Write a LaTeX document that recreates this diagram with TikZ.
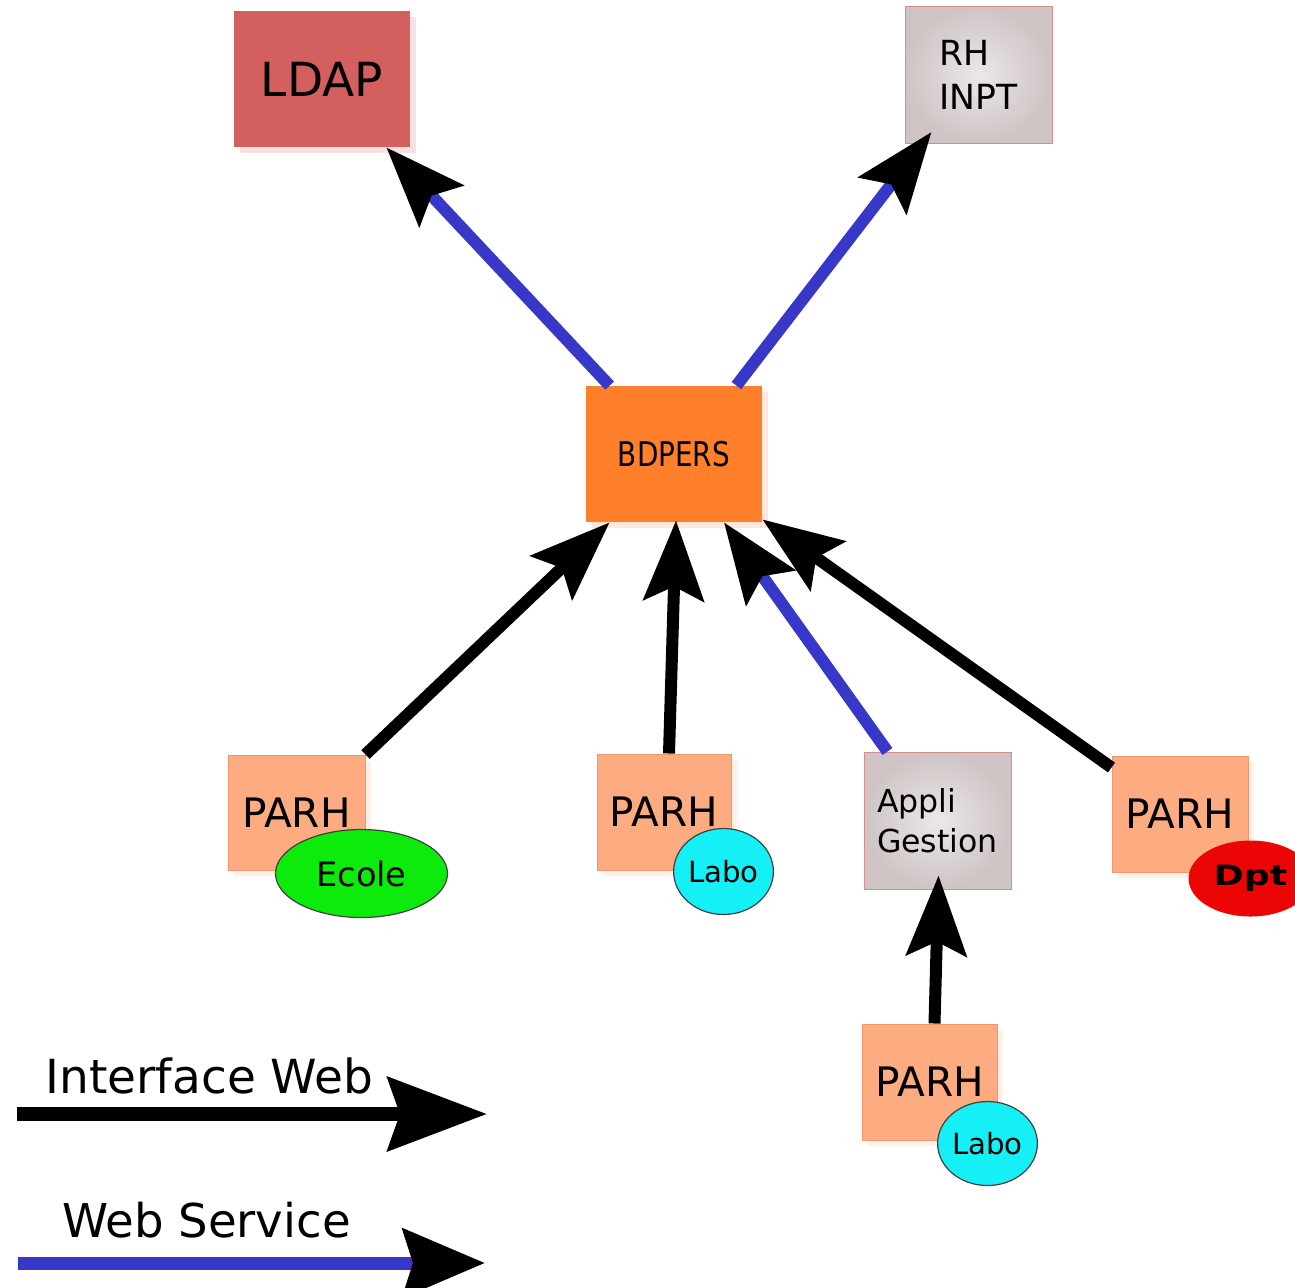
\documentclass[tikz,border=0pt]{standalone}
\usepackage{fontspec}
\setmainfont{DejaVu Sans}
\newfontfamily\bdfont[FakeStretch=0.82]{DejaVu Sans}
\newfontfamily\dptfont[FakeStretch=1.3]{DejaVu Sans Bold}
\usetikzlibrary{arrows.meta,shapes.geometric,shadows}
\definecolor{ldapred}{RGB}{211,95,95}
\definecolor{rhgray}{RGB}{206,196,196}
\definecolor{rhlight}{RGB}{236,231,231}
\definecolor{rhborder}{RGB}{215,140,140}
\definecolor{bdorange}{RGB}{255,127,42}
\definecolor{parhsalmon}{RGB}{253,172,130}
\definecolor{parhborder}{RGB}{238,150,112}
\definecolor{ecolegreen}{RGB}{12,235,12}
\definecolor{labocyan}{RGB}{20,240,245}
\definecolor{dptred}{RGB}{235,5,5}
\definecolor{wsblue}{RGB}{55,55,200}
\begin{document}
\begin{tikzpicture}[x=0.5pt,y=-0.5pt,
    box/.style={rectangle,inner sep=0pt,drop shadow={shadow xshift=3pt,shadow yshift=-3pt,opacity=0.18,fill=#1},fill=#1},
    parh/.style={box=parhsalmon,draw=parhborder,line width=0.5pt,minimum width=68pt,minimum height=58pt,font=\fontsize{20.3}{24}\selectfont},
    grisbox/.style={rectangle,inner sep=0pt,inner color=rhlight,outer color=rhgray,draw=rhborder,line width=0.5pt,minimum width=73.5pt,minimum height=68.5pt,align=left},
    tag/.style={ellipse,inner sep=0pt,draw=black!75,line width=0.6pt},
    iw/.style={line width=6pt,black,-{Stealth[length=40pt,width=30pt,inset=7pt]}},
    ws/.style={line width=6pt,wsblue,-{Stealth[length=40pt,width=30pt,inset=7pt,color=black]}},
  ]
  \useasboundingbox (0,0) rectangle (1295,1287);
  \node[box=ldapred,minimum width=88pt,minimum height=68pt,font=\fontsize{23.5}{27}\selectfont] (ldap) at (322,79) {LDAP};
  \node[grisbox,font=\fontsize{17.3}{22}\selectfont] (rh) at (978.5,75) {RH\\INPT};
  \node[box=bdorange,minimum width=88pt,minimum height=68pt,font={\bdfont\fontsize{17}{20}\selectfont}] (bdpers) at (674,454) {BDPERS};

  \node[parh,minimum width=68.5pt,minimum height=57.5pt] (parhecole) at (296.5,812.5) {PARH};
  \node[tag,fill=ecolegreen,minimum width=86pt,minimum height=44pt,font=\fontsize{16.8}{20}\selectfont] (ecole) at ([xshift=-2pt,yshift=-1.5pt]parhecole.south east) {Ecole};
  \node[parh,minimum width=67pt] (parhlabo) at (664,812) {PARH};
  \node[tag,fill=labocyan,minimum width=49pt,minimum height=43pt,font=\fontsize{14.6}{17}\selectfont] (labo) at ([xshift=-4pt,yshift=-0.5pt]parhlabo.south east) {Labo};
  \node[grisbox,font=\fontsize{15.8}{20}\selectfont] (appli) at (937.5,820.5) {Appli\\Gestion};
  \node[parh] (parhdpt) at (1180,814) {PARH};
  \node[tag,draw=none,fill=dptred,minimum width=62pt,minimum height=38pt,font={\dptfont\fontsize{14}{17}\selectfont}] (dpt) at ([xshift=1pt,yshift=-3pt]parhdpt.south east) {Dpt};
  \node[parh,minimum width=67.5pt] (parhbas) at (929.5,1082) {PARH};
  \node[tag,fill=labocyan,minimum width=49.5pt,minimum height=42pt,font=\fontsize{14.6}{17}\selectfont] (labobas) at ([xshift=-5pt,yshift=-1.5pt]parhbas.south east) {Labo};

  \draw[ws] ([xshift=12pt]bdpers.north west) -- ([xshift=-12pt]ldap.south east);
  \draw[ws] ([xshift=-13pt]bdpers.north east) -- ([xshift=13.5pt,yshift=6pt]rh.south west);
  \draw[iw] (parhecole.north east) -- ([xshift=12pt]bdpers.south west);
  \draw[iw] ([xshift=2.5pt]parhlabo.north) -- ([xshift=1pt,yshift=1pt]bdpers.south);
  \draw[ws] ([xshift=12pt]appli.north west) -- ([xshift=25pt]bdpers.south);
  \draw[iw] ([yshift=-6pt]parhdpt.north west) -- ([yshift=1.5pt]bdpers.south east);
  \draw[iw] ([xshift=2.5pt]parhbas.north) -- ([xshift=0.5pt,yshift=7pt]appli.south);

  \node[anchor=base,font=\fontsize{23.5}{27}\selectfont] (iwlabel) at (209.5,1093) {Interface Web};
  \coordinate (iwfrom) at (17,1114);
  \coordinate (iwto) at (487,1114);
  \draw[iw,line width=7pt,-{Stealth[length=49.5pt,width=36.5pt,inset=6pt]}] (iwfrom) -- (iwto);
  \node[anchor=base,font=\fontsize{23.3}{27}\selectfont] (wslabel) at (206.5,1237) {Web Service};
  \coordinate (wsfrom) at (18,1263);
  \coordinate (wsto) at (485,1263);
  \draw[ws,line width=6.5pt,-{Stealth[length=41pt,width=34pt,inset=5pt,color=black]}] (wsfrom) -- (wsto);
\end{tikzpicture}
\end{document}
